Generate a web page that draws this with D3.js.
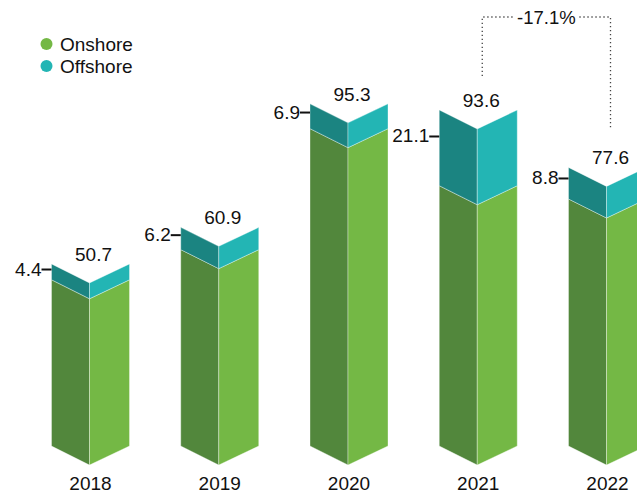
<!DOCTYPE html>
<html>
<head>
<meta charset="utf-8">
<script src="https://cdn.jsdelivr.net/npm/d3@7"></script>
<style>
  body { margin: 0; background: #fff; }
  text { font-family: Arial, "Liberation Sans", Helvetica, sans-serif; fill: #111; }
</style>
</head>
<body>
<div class="chart"></div>
<script>
let years = ['2018', '2019', '2020', '2021', '2022'];
let totals = [50.7, 60.9, 95.3, 93.6, 77.6];
let offshore = [4.4, 6.2, 6.9, 21.1, 8.8];
let totalLabels = ['50.7', '60.9', '95.3', '93.6', '77.6'];
let offshoreLabels = ['4.4', '6.2', '6.9', '21.1', '8.8'];
let seriesNames = ['Onshore', 'Offshore'];
let changeLabel = '-17.1%';

let data = years.map((year, i) => ({
    year: year,
    total: totals[i],
    offshore: offshore[i],
    onshore: totals[i] - offshore[i],
    totalLabel: totalLabels[i],
    offLabel: offshoreLabels[i]
}));

let width = 637;
let height = 495;

let colors = {
    onshore: { left: '#52873c', right: '#74b845' },
    offshore: { left: '#1b8481', right: '#23b5b4' }
};

let svg = d3.select('.chart')
    .append('svg')
    .attr('width', width)
    .attr('height', height);

//scales
let x = d3.scalePoint()
    .domain(years)
    .range([89.5, 606.5]);

let y = d3.scaleLinear()
    .domain([0, 100])
    .range([446, 87]);

let leftW = 38;
let rightW = 40;
let dip = 19;

// one segment = two faces with a V-shaped top and bottom
function faces(xc, v0, v1) {
    let xl = xc - leftW, xr = xc + rightW;
    let yb = y(v0), yt = y(v1);
    return {
        left: [[xl, yt], [xc, yt + dip], [xc, yb + dip], [xl, yb]],
        right: [[xc, yt + dip], [xr, yt], [xr, yb], [xc, yb + dip]]
    };
}

let line = d3.line();

let bars = svg.append('g');

data.forEach(d => {
    let xc = x(d.year);
    let segs = [
        { f: faces(xc, 0, d.onshore), c: colors.onshore },
        { f: faces(xc, d.onshore, d.total), c: colors.offshore }
    ];
    segs.forEach(s => {
        bars.append('path')
            .attr('d', line(s.f.left) + 'Z')
            .attr('fill', s.c.left)
            .attr('stroke', 'rgba(255,255,255,0.45)')
            .attr('stroke-width', 0.8);
        bars.append('path')
            .attr('d', line(s.f.right) + 'Z')
            .attr('fill', s.c.right)
            .attr('stroke', 'rgba(255,255,255,0.45)')
            .attr('stroke-width', 0.8);
    });

    // total label
    svg.append('text')
        .attr('x', xc + 4)
        .attr('y', y(d.total) - 3)
        .attr('text-anchor', 'middle')
        .style('font-size', '19px')
        .text(d.totalLabel);

    // offshore label with tick
    let tickY = y(d.total) + (y(d.onshore) - y(d.total)) * 0.35;
    let xl = xc - leftW;
    svg.append('line')
        .attr('x1', xl - 10)
        .attr('x2', xl)
        .attr('y1', tickY)
        .attr('y2', tickY)
        .attr('stroke', '#111')
        .attr('stroke-width', 2);
    svg.append('text')
        .attr('x', xl - 10)
        .attr('y', tickY + 6)
        .attr('text-anchor', 'end')
        .style('font-size', '19px')
        .text(d.offLabel);

    // year label
    svg.append('text')
        .attr('x', xc + 1)
        .attr('y', 490)
        .attr('text-anchor', 'middle')
        .style('font-size', '19px')
        .text(d.year);
});

// change bracket between 2021 and 2022
let a = data[3], b = data[4];
let bx1 = x(a.year) + 5, bx2 = x(b.year) + 4;
let by = 17;
let midX = (bx1 + bx2) / 2;
let bracket = svg.append('g')
    .attr('fill', 'none')
    .attr('stroke', '#444')
    .attr('stroke-width', 1.3)
    .attr('stroke-dasharray', '1.3,2.7');
bracket.append('path')
    .attr('d', line([[bx1, y(a.total) - 34], [bx1, by], [midX - 33, by]]));
bracket.append('path')
    .attr('d', line([[midX + 33, by], [bx2, by], [bx2, y(b.total) - 40]]));
svg.append('text')
    .attr('x', midX)
    .attr('y', by + 7)
    .attr('text-anchor', 'middle')
    .style('font-size', '18.5px')
    .text(changeLabel);

// legend
let legend = svg.append('g');
seriesNames.forEach((name, i) => {
    let ly = 44 + i * 22;
    legend.append('circle')
        .attr('cx', 46.5)
        .attr('cy', ly)
        .attr('r', 6)
        .attr('fill', i === 0 ? colors.onshore.right : colors.offshore.right);
    legend.append('text')
        .attr('x', 60)
        .attr('y', ly + 7)
        .style('font-size', '19px')
        .text(name);
});
</script>
</body>
</html>
